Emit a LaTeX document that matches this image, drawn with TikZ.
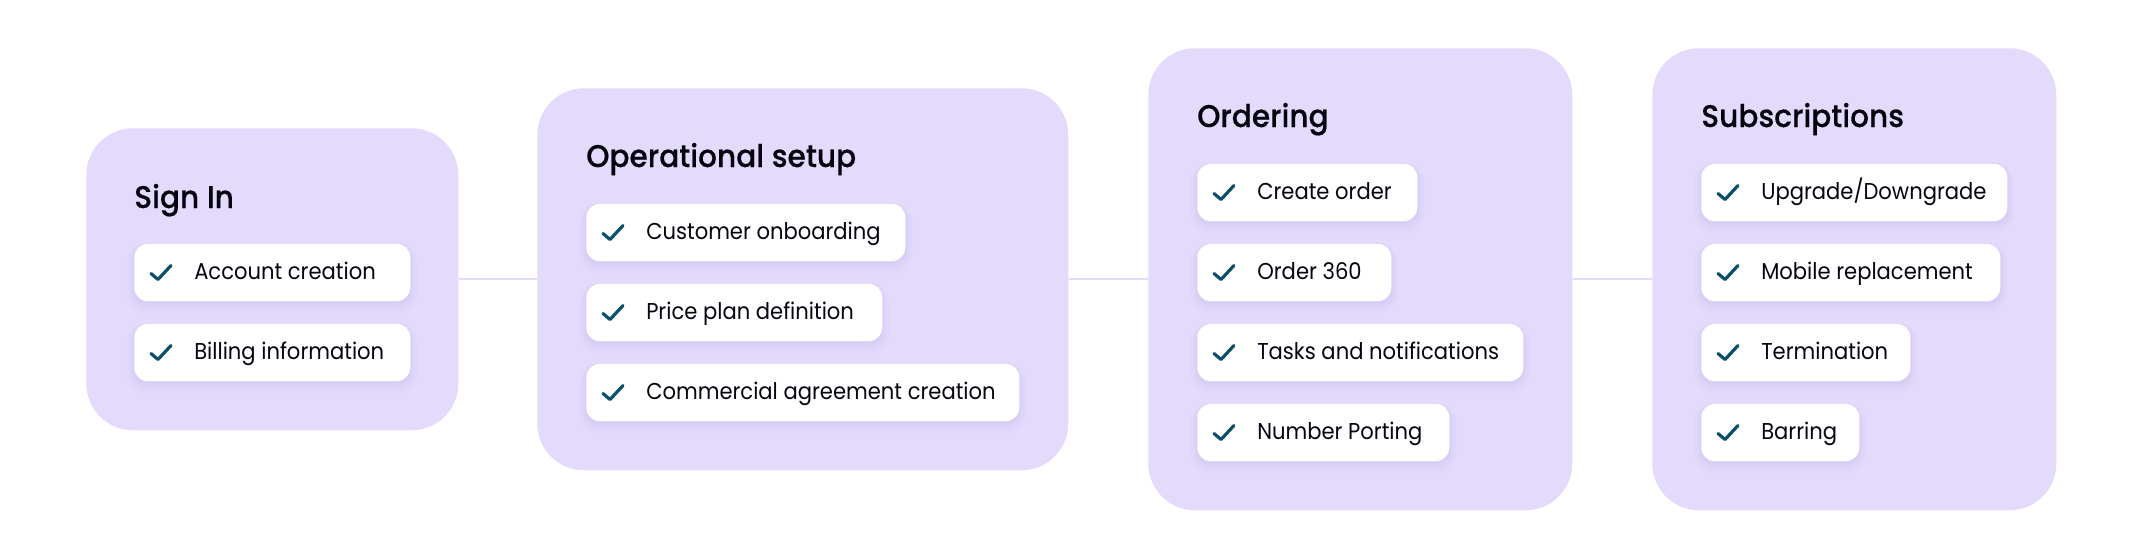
\documentclass[tikz,border=0pt]{standalone}
\usepackage{fontspec}
\setmainfont{Poppins}[FakeStretch=0.92]
\newfontfamily\headfont{Poppins Medium}[FakeStretch=0.945,FakeBold=0.3]
\newcommand{\px}{0.75pt}
\definecolor{panelcol}{HTML}{E3DAFC}
\definecolor{shadowcol}{HTML}{7A62C0}
\definecolor{tickcol}{HTML}{0B4F6C}
\definecolor{inkcol}{HTML}{050510}
\tikzset{
  panel/.style={anchor=north west,fill=panelcol,rounded corners=35pt,inner sep=0pt},
  card/.style={anchor=west,fill=white,rounded corners=10pt,inner sep=0pt,minimum height=57*\px,
    preaction={draw=shadowcol,line width=14*\px,opacity=.025,transform canvas={yshift=-4pt}},
    preaction={draw=shadowcol,line width=8*\px,opacity=.03,transform canvas={yshift=-3pt}},
    preaction={draw=shadowcol,line width=3*\px,opacity=.04,transform canvas={yshift=-2pt}}},
  head/.style={anchor=base west,inner sep=0pt,text=inkcol,font=\headfont\fontsize{23.5pt}{27pt}\selectfont},
  cardtext/.style={anchor=base west,inner sep=0pt,text=inkcol,font=\fontsize{17.2pt}{20pt}\selectfont},
  tick/.style={draw=tickcol,line width=3.2*\px,line join=round,line cap=round},
  link/.style={draw=panelcol,line width=2.4*\px}
}
\begin{document}
\begin{tikzpicture}[x=0.75pt,y=0.75pt,yscale=-1,xscale=1]
\useasboundingbox (0,0) rectangle (2144,558);

% panels
\node[panel,minimum width=372*\px,minimum height=302*\px] (signin) at (86,128) {};
\node[panel,minimum width=531*\px,minimum height=382*\px] (setup) at (537,88) {};
\node[panel,minimum width=424*\px,minimum height=462*\px] (ordering) at (1148,48) {};
\node[panel,minimum width=404*\px,minimum height=462*\px] (subs) at (1652,48) {};

\draw[link] (signin.east) -- (setup.west);
\draw[link] (setup.east) -- (ordering.west);
\draw[link] (ordering.east) -- (subs.west);

\node[head] (signinhead) at (134,208) {Sign In};
\node[head] (setuphead) at (586,167) {Operational setup};
\node[head] (orderinghead) at (1197,127) {Ordering};
\node[head] (subshead) at (1701,127) {Subscriptions};

% cards
\node[card,minimum width=276*\px] (si1) at (134,272.5) {};
\node[card,minimum width=276*\px] (si2) at (134,352.5) {};

\node[card,minimum width=319*\px] (se1) at (586,232.5) {};
\node[card,minimum width=296*\px] (se2) at (586,312.5) {};
\node[card,minimum width=433*\px] (se3) at (586,392.5) {};

\node[card,minimum width=220*\px] (or1) at (1197,192.5) {};
\node[card,minimum width=194*\px] (or2) at (1197,272.5) {};
\node[card,minimum width=326*\px] (or3) at (1197,352.5) {};
\node[card,minimum width=252*\px] (or4) at (1197,432.5) {};

\node[card,minimum width=306*\px] (su1) at (1701,192.5) {};
\node[card,minimum width=299*\px] (su2) at (1701,272.5) {};
\node[card,minimum width=209*\px] (su3) at (1701,352.5) {};
\node[card,minimum width=158*\px] (su4) at (1701,432.5) {};

% card texts
\node[cardtext] (si1t) at ([shift={(60,7)}]si1.west) {Account creation};
\node[cardtext] (si2t) at ([shift={(60,7)}]si2.west) {Billing information};
\node[cardtext] (se1t) at ([shift={(60,7)}]se1.west) {Customer onboarding};
\node[cardtext] (se2t) at ([shift={(60,7)}]se2.west) {Price plan definition};
\node[cardtext] (se3t) at ([shift={(60,7)}]se3.west) {Commercial agreement creation};
\node[cardtext] (or1t) at ([shift={(60,7)}]or1.west) {Create order};
\node[cardtext] (or2t) at ([shift={(60,7)}]or2.west) {Order 360};
\node[cardtext] (or3t) at ([shift={(60,7)}]or3.west) {Tasks and notifications};
\node[cardtext] (or4t) at ([shift={(60,7)}]or4.west) {Number Porting};
\node[cardtext] (su1t) at ([shift={(60,7)}]su1.west) {Upgrade/Downgrade};
\node[cardtext] (su2t) at ([shift={(60,7)}]su2.west) {Mobile replacement};
\node[cardtext] (su3t) at ([shift={(60,7)}]su3.west) {Termination};
\node[cardtext] (su4t) at ([shift={(60,7)}]su4.west) {Barring};

% check marks
\foreach \c in {si1,si2,se1,se2,se3,or1,or2,or3,or4,su1,su2,su3,su4}
  \draw[tick] ([shift={(17,1)}]\c.west) -- ([shift={(24,7)}]\c.west) -- ([shift={(37,-7)}]\c.west);
\end{tikzpicture}
\end{document}
